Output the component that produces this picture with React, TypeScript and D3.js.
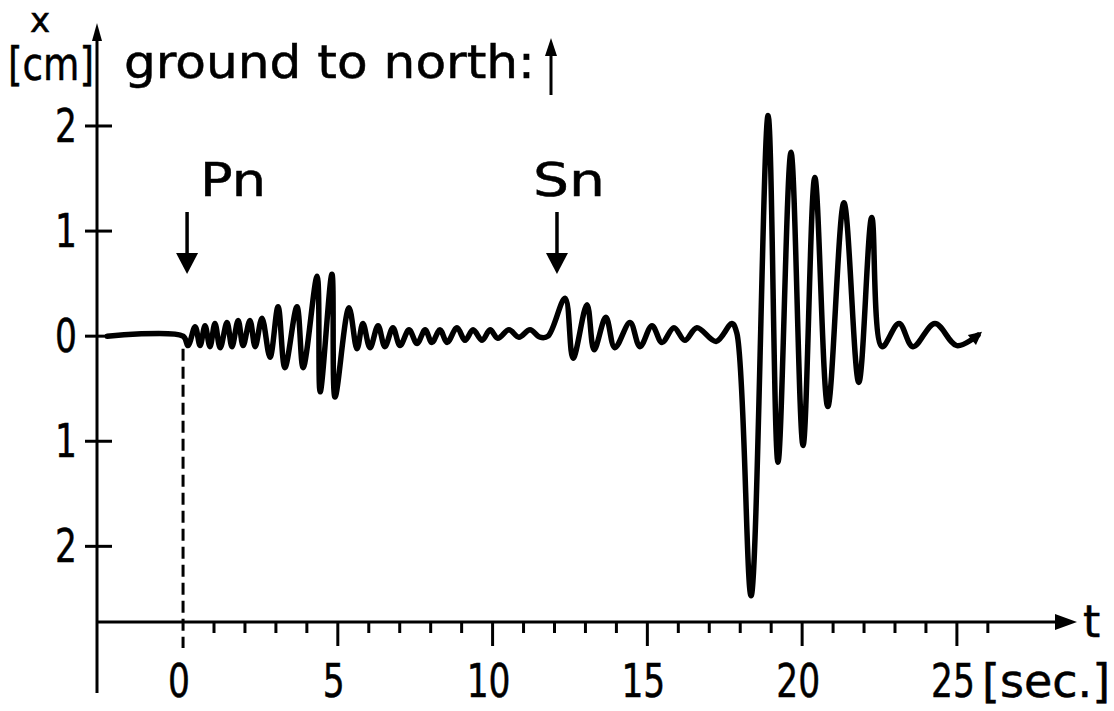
import React from 'react';
import * as d3 from 'd3';

// Ground displacement to north (cm) vs time (s)
const timeSec = [
  -2.45, 0, 0.16, 0.39, 0.55, 0.71, 0.87, 1.03, 1.2, 1.42, 1.58, 1.78, 1.94, 2.16, 2.33, 2.55,
  2.81, 3.07, 3.29, 3.68, 3.88, 4.33, 4.43, 4.81, 4.91, 5.36, 5.62, 5.81, 6.04, 6.3, 6.52, 6.78,
  7.01, 7.3, 7.56, 7.82, 8.04, 8.3, 8.53, 8.85, 9.11, 9.37, 9.66, 9.92, 10.17, 10.53, 10.85, 11.21,
  11.53, 11.79, 12.34, 12.6, 13.05, 13.28, 13.66, 13.95, 14.44, 14.76, 15.15, 15.47, 15.86, 16.21,
  16.6, 17.22, 17.73, 17.89, 18.35, 18.9, 19.22, 19.64, 20.03, 20.41, 20.83, 21.35, 21.83, 22.25,
  22.58, 23.13, 23.58, 24.29, 25.0, 25.68,
];
const northCm = [
  0, 0, -0.09, 0.09, -0.09, 0.1, -0.1, 0.12, -0.11, 0.13, -0.1, 0.15, -0.09, 0.15, -0.1, 0.17,
  -0.2, 0.28, -0.3, 0.28, -0.3, 0.57, -0.53, 0.59, -0.58, 0.27, -0.12, 0.12, -0.11, 0.1, -0.1, 0.08,
  -0.09, 0.06, -0.07, 0.06, -0.06, 0.06, -0.06, 0.08, -0.04, 0.06, -0.04, 0.06, -0.02, 0.06, -0.01, 0.06,
  -0.01, 0.0, 0.36, -0.21, 0.3, -0.13, 0.18, -0.11, 0.13, -0.1, 0.1, -0.06, 0.08, -0.04,
  0.08, -0.05, 0.12, 0.03, -2.47, 2.1, -1.2, 1.75, -1.04, 1.51, -0.67, 1.27, -0.44, 1.13,
  -0.1, 0.12, -0.1, 0.12, -0.09, 0.01,
];

const yTickValues = [2, 1, 0, -1, -2];
const yTickLabels = ['2', '1', '0', '1', '2'];
const xLabelTicks = [0, 5, 10, 15, 20, 25];
const xMajorTicks = [5, 10, 15, 20, 25];
const xMinorTicks = [1, 2, 3, 4, 6, 7, 8, 9, 11, 12, 13, 14, 16, 17, 18, 19, 21, 22, 23, 24, 26];
const phaseNames = ['Pn', 'Sn'];
const phaseTimes = [0.13, 12.08];
const phaseLabelDx = [13, -24];

const FONT = '"DejaVu Sans", sans-serif';
const NARROW = 0.75;

export default function App() {
  const W = 1114;
  const H = 711;
  const x = d3.scaleLinear().domain([-2.78, 28.88]).range([97, 1077]);
  const y = d3.scaleLinear().domain([-2.72, 2.98]).range([622, 23]);
  const x0 = x(-2.78);
  const y0 = y(-2.72);

  const pts: [number, number][] = timeSec.map((t, i) => [t, northCm[i]]);
  const line = d3
    .line<[number, number]>()
    .x((d) => x(d[0]))
    .y((d) => y(d[1]))
    .curve(d3.curveCatmullRom.alpha(0.5));

  const axisW = 3;
  const xEnd = x(28.88);
  const yTop = y(2.98);
  const txt = { stroke: '#000', strokeWidth: 0.5, fill: '#000' };

  return (
    <svg
      width={W}
      height={H}
      style={{ position: 'absolute', left: 0, top: 0, display: 'block', background: '#fff' }}
      fontFamily={FONT}
    >
      <defs>
        <marker
          id="endArrow"
          viewBox="0 0 10 10"
          refX="6"
          refY="5"
          markerWidth="16"
          markerHeight="13"
          markerUnits="userSpaceOnUse"
          orient="auto"
        >
          <path d="M0,0 L10,5 L0,10 Z" fill="#000" />
        </marker>
      </defs>
      <rect x={0} y={0} width={W} height={H} fill="#fff" />

      {/* y axis */}
      <line x1={x0} x2={x0} y1={yTop + 10} y2={693} stroke="#000" strokeWidth={axisW} />
      <path d={`M${x0},${yTop} L${x0 - 5},${yTop + 18} L${x0 + 5},${yTop + 18} Z`} fill="#000" />
      {yTickValues.map((v, i) => (
        <g key={'yt' + i}>
          <line x1={x0 - 12} x2={x0 + 15} y1={y(v)} y2={y(v)} stroke="#000" strokeWidth={axisW} />
          <text
            transform={`translate(${x0 - 20},${y(v) + 16}) scale(${NARROW},1)`}
            fontSize={46}
            textAnchor="end"
            {...txt}
          >
            {yTickLabels[i]}
          </text>
        </g>
      ))}

      {/* x axis */}
      <line x1={x0} x2={xEnd - 12} y1={y0} y2={y0} stroke="#000" strokeWidth={axisW} />
      <path d={`M${xEnd},${y0} L${xEnd - 22},${y0 - 8} L${xEnd - 22},${y0 + 8} Z`} fill="#000" />
      {xMinorTicks.map((t) => (
        <line key={'mi' + t} x1={x(t)} x2={x(t)} y1={y0} y2={y0 + 11} stroke="#000" strokeWidth={axisW} />
      ))}
      {xMajorTicks.map((t) => (
        <line key={'ma' + t} x1={x(t)} x2={x(t)} y1={y0} y2={y0 + 24} stroke="#000" strokeWidth={axisW} />
      ))}
      {xLabelTicks.map((t) => (
        <text
          key={'xl' + t}
          transform={`translate(${x(t) - 4},697) scale(${NARROW},1)`}
          fontSize={46}
          textAnchor="middle"
          {...txt}
        >
          {String(t)}
        </text>
      ))}
      <text x={982} y={697} fontSize={46} {...txt}>
        [sec.]
      </text>
      <text x={xEnd + 6} y={637} fontSize={44} {...txt}>
        t
      </text>

      {/* dashed onset line at t = 0 */}
      <line
        x1={x(0)}
        x2={x(0)}
        y1={y(-0.12)}
        y2={y0 + 26}
        stroke="#000"
        strokeWidth={3}
        strokeDasharray="12 6"
      />

      {/* trace */}
      <path
        d={line(pts) || ''}
        fill="none"
        stroke="#000"
        strokeWidth={5.5}
        strokeLinejoin="round"
        strokeLinecap="round"
        markerEnd="url(#endArrow)"
      />

      {/* phase arrows */}
      {phaseNames.map((p, i) => {
        const px = x(phaseTimes[i]);
        return (
          <g key={p}>
            <line x1={px} x2={px} y1={212} y2={258} stroke="#000" strokeWidth={3.5} />
            <path d={`M${px - 11},${253} L${px + 11},${253} L${px},${274} Z`} fill="#000" />
            <text
              x={px + phaseLabelDx[i]}
              y={196}
              fontSize={46}
              textLength={p === 'Pn' ? 66 : 72}
              lengthAdjust="spacingAndGlyphs"
              {...txt}
            >
              {p}
            </text>
          </g>
        );
      })}

      {/* y axis title */}
      <text x={8} y={80} fontSize={46} textLength={86} lengthAdjust="spacingAndGlyphs" {...txt}>
        [cm]
      </text>
      <text x={30} y={32} fontSize={34} {...txt}>
        x
      </text>
      <text x={124} y={78} fontSize={46} textLength={411} lengthAdjust="spacingAndGlyphs" {...txt}>
        ground to north:
      </text>
      <line x1={551} x2={551} y1={95} y2={52} stroke="#000" strokeWidth={3} />
      <path d="M551,38 L545,56 L557,56 Z" fill="#000" />
    </svg>
  );
}
